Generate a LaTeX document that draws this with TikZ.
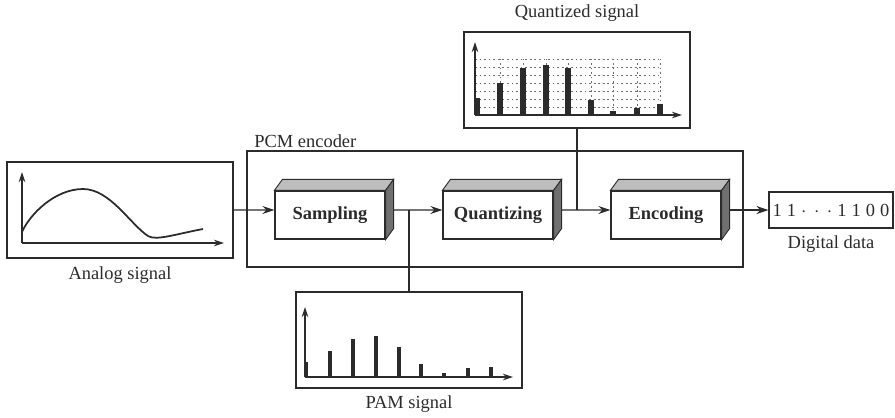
\documentclass[tikz,border=0pt]{standalone}
\usepackage{fontspec}
\setmainfont{Liberation Serif}
\usepackage{xcolor}
\definecolor{cInk}{HTML}{2B2B2B}
\definecolor{cTop}{HTML}{BDBDBD}
\definecolor{cSide}{HTML}{707070}
\definecolor{cGrid}{HTML}{6E6E6E}
\usetikzlibrary{positioning,arrows.meta}
\tikzset{
  node-block/.style={draw=cInk,line width=0.7pt,fill=white,
    minimum width=2.2cm,minimum height=0.96cm,align=center,
    font=\bfseries\fontsize{10.5}{12}\selectfont,text=cInk},
  node-panel/.style={draw=cInk,line width=0.7pt,
    minimum width=4.52cm,minimum height=1.92cm},
  node-frame/.style={draw=cInk,line width=0.9pt,
    minimum width=9.92cm,minimum height=2.32cm},
  node-data/.style={draw=cInk,line width=0.7pt,inner xsep=2pt,
    minimum width=2.4cm,minimum height=0.72cm,
    font=\fontsize{10.5}{12}\selectfont,text=cInk},
  node-caption/.style={font=\fontsize{10.5}{12}\selectfont,text=cInk,inner sep=1pt},
  face-top/.style={fill=cTop,draw=cInk,line width=0.5pt},
  face-side/.style={fill=cSide,draw=cInk,line width=0.5pt},
  arrow/.style={-{Stealth[length=2.4mm,width=1.6mm]},line width=0.7pt,draw=cInk},
  tap/.style={line width=0.6pt,draw=cInk},
  axis/.style={-{Stealth[length=2mm,width=1.3mm]},line width=0.7pt,draw=cInk},
  sample-bar/.style={line width=2.4pt,draw=cInk},
  level-bar/.style={line width=3pt,draw=cInk},
  level-line/.style={dash pattern=on 1pt off 1.6pt,line width=0.45pt,draw=cGrid},
}

\begin{document}
\begin{tikzpicture}[x=0.02cm,y=-0.02cm]
  \useasboundingbox (0,0) rectangle (895,417);

  % encoder frame and its three stages
  \node[node-frame] (pcm) at (495,209) {};
  \node[node-caption,anchor=south west] at ([xshift=1.2mm]pcm.north west) {PCM encoder};
  \node[node-block] (samp)  at (330,215) {Sampling};
  \node[node-block] (quant) at (498,215) {Quantizing};
  \node[node-block] (enc)   at (666,215) {Encoding};
  \foreach \n in {samp,quant,enc} {
    \filldraw[face-top] (\n.north west) -- ++(8,-11)
      -- ([shift={(8,-11)}]\n.north east) -- (\n.north east) -- cycle;
    \filldraw[face-side] (\n.north east) -- ([shift={(8,-11)}]\n.north east)
      -- ([shift={(8,-11)}]\n.south east) -- (\n.south east) -- cycle;
  }

  % signal panels
  \node[node-panel] (analog) at (120,210) {};
  \node[node-caption,below=1.2mm of analog] {Analog signal};
  \node[node-panel] (qpanel) at (577,80) {};
  \node[node-caption,above=1.5mm of qpanel] {Quantized signal};
  \node[node-panel] (pam) at (409,340) {};
  \node[node-caption,below=1mm of pam] {PAM signal};
  \node[node-data] (digital) at (831,210)
    {1\hspace{0.6ex}1\hspace{0.6ex}$\cdot\,\cdot\,\cdot$\hspace{0.6ex}1\hspace{0.6ex}1\hspace{0.6ex}0\hspace{0.6ex}0};
  \node[node-caption,below=1mm of digital] {Digital data};

  % analog waveform
  \draw[axis] (22,243) -- (22,172);
  \draw[axis] (22,243) -- (224,243);
  \draw[line width=1pt,cInk] (22,232) .. controls (30,214) and (55,189) .. (83,189)
    .. controls (110,189) and (130,224) .. (148,236)
    .. controls (156,241) and (176,234) .. (203,229);

  % quantized samples on their levels
  \foreach \yy in {59,67,75,83,91,99,107}
    \draw[level-line] (475,\yy) -- (662,\yy);
  \foreach \xx in {500,523,546,568,591,613,637,660}
    \draw[level-line] (\xx,115) -- (\xx,59);
  \foreach \xx/\yy in {477/98,500/83,523/68,546/65,568/68,591/100,613/111,637/108,660/104}
    \draw[level-bar] (\xx,115) -- (\xx,\yy);
  \draw[axis] (475,115) -- (475,42);
  \draw[axis] (475,115) -- (682,115);

  % PAM samples
  \foreach \xx/\yy in {306/362,330/351,353/339,376/336,399/347,421/364,444/373,468/368,491/367}
    \draw[sample-bar] (\xx,377) -- (\xx,\yy);
  \draw[axis] (305,377) -- (305,307);
  \draw[axis] (305,377) -- (513,377);

  % signal path
  \coordinate (pamtap) at (409,210);
  \coordinate (qtap) at (577,210);
  \draw[arrow] (analog.east) -- ([yshift=1mm]samp.west);
  \draw[arrow] ([shift={(8,-5)}]samp.east) -- ([yshift=1mm]quant.west);
  \draw[arrow] ([shift={(8,-5)}]quant.east) -- ([yshift=1mm]enc.west);
  \draw[arrow] ([shift={(8,-5)}]enc.east) -- (digital.west);
  \draw[tap] (pamtap) -- (pam.north);
  \draw[tap] (qtap) -- (qpanel.south);
\end{tikzpicture}
\end{document}
